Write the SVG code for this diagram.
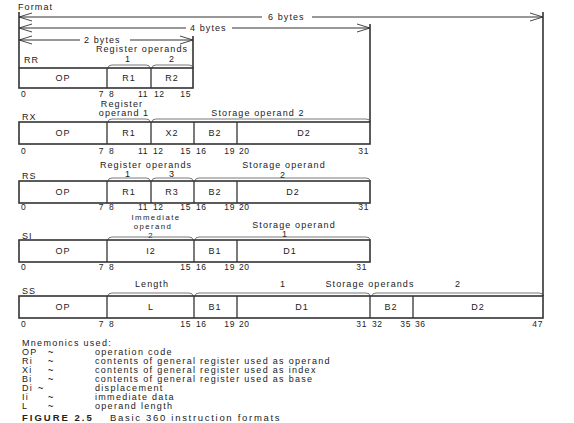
<svg xmlns="http://www.w3.org/2000/svg" width="574" height="423" viewBox="0 0 574 423">
<style>
text{font-family:"Liberation Sans",Arial,sans-serif;fill:#222;letter-spacing:1.1px}
.t{font-size:9px}
.s{font-size:7.8px;letter-spacing:1.4px}
.n{font-size:8.5px;letter-spacing:0.6px}
.e{text-anchor:end}
.m{text-anchor:middle}
.box{fill:none;stroke:#333;stroke-width:1.6}
.div{stroke:#333;stroke-width:1.3}
.ln{fill:none;stroke:#333;stroke-width:1}
.vl{fill:none;stroke:#333;stroke-width:1.6}
.br{fill:none;stroke:#555;stroke-width:0.8}
.ah{fill:none;stroke:#333;stroke-width:0.9}
.tl{font-size:9px;letter-spacing:0;font-weight:bold}
.fig{font-weight:bold;font-size:9.5px;letter-spacing:2px}
.cap{font-size:9.5px;letter-spacing:1.7px}
.lg{font-size:9px;letter-spacing:1.3px}
</style>
<rect width="574" height="423" fill="#fff"/>
<text class="t" x="18" y="10">Format</text>

<g id="connectors">
  <line class="vl" x1="19" y1="12" x2="19" y2="68"/>
  <line class="vl" x1="193" y1="36" x2="193" y2="68"/>
  <line class="vl" x1="370" y1="24" x2="370" y2="122"/>
  <line class="vl" x1="543" y1="12" x2="543" y2="296"/>
  <line class="ln" x1="19" y1="17" x2="262" y2="17"/>
  <line class="ln" x1="312" y1="17" x2="543" y2="17"/>
  <path class="ah" d="M32,13 L19,17 L32,21 M530,13 L543,17 L530,21"/>
  <line class="ln" x1="19" y1="28" x2="186" y2="28"/>
  <line class="ln" x1="232" y1="28" x2="370" y2="28"/>
  <path class="ah" d="M32,24 L19,28 L32,32 M357,24 L370,28 L357,32"/>
  <line class="ln" x1="19" y1="40" x2="80" y2="40"/>
  <line class="ln" x1="130" y1="40" x2="193" y2="40"/>
  <path class="ah" d="M32,36 L19,40 L32,44 M180,36 L193,40 L180,44"/>
</g>
<text class="t" x="268" y="20">6 bytes</text>
<text class="t" x="190" y="31">4 bytes</text>
<text class="t" x="84" y="43">2 bytes</text>

<g id="RR">
  <text class="t" x="24" y="63">RR</text>
  <text class="t m" x="142" y="52">Register operands</text>
  <text class="t m" x="128" y="62">1</text>
  <text class="t m" x="172" y="62">2</text>
  <path class="br" d="M108,68 q0,-3 4,-3 H146 q4,0 4,3 M152,68 q0,-3 4,-3 H189 q4,0 4,3"/>
  <rect class="box" x="19" y="68" width="174" height="20"/>
  <line class="div" x1="107" y1="68" x2="107" y2="88"/>
  <line class="div" x1="151" y1="68" x2="151" y2="88"/>
  <text class="t m" x="63" y="81">OP</text>
  <text class="t m" x="129" y="81">R1</text>
  <text class="t m" x="172" y="81">R2</text>
  <text class="n" x="21" y="97">0</text>
  <text class="n e" x="104" y="97">7</text>
  <text class="n" x="109" y="97">8</text>
  <text class="n e" x="148" y="97">11</text>
  <text class="n" x="154" y="97">12</text>
  <text class="n e" x="191" y="97">15</text>
</g>

<g id="RX">
  <text class="t" x="22" y="120">RX</text>
  <text class="t m" x="122" y="107">Register</text>
  <text class="t m" x="124" y="116">operand 1</text>
  <text class="t m" x="258" y="116">Storage operand 2</text>
  <path class="br" d="M108,122 q0,-3 4,-3 H146 q4,0 4,3 M152,122 q0,-3 4,-3 H366 q4,0 4,3"/>
  <rect class="box" x="19" y="122" width="351" height="22"/>
  <line class="div" x1="107" y1="122" x2="107" y2="144"/>
  <line class="div" x1="151" y1="122" x2="151" y2="144"/>
  <line class="div" x1="194" y1="122" x2="194" y2="144"/>
  <line class="div" x1="237" y1="122" x2="237" y2="144"/>
  <text class="t m" x="63" y="136">OP</text>
  <text class="t m" x="129" y="136">R1</text>
  <text class="t m" x="172" y="136">X2</text>
  <text class="t m" x="215" y="136">B2</text>
  <text class="t m" x="304" y="136">D2</text>
  <text class="n" x="21" y="154">0</text>
  <text class="n e" x="104" y="154">7</text>
  <text class="n" x="109" y="154">8</text>
  <text class="n e" x="148" y="154">11</text>
  <text class="n" x="153" y="154">12</text>
  <text class="n e" x="191" y="154">15</text>
  <text class="n" x="196" y="154">16</text>
  <text class="n e" x="235" y="154">19</text>
  <text class="n" x="239" y="154">20</text>
  <text class="n e" x="369" y="154">31</text>
</g>

<g id="RS">
  <text class="t" x="22" y="179">RS</text>
  <text class="t m" x="146" y="168">Register operands</text>
  <text class="t m" x="128" y="177">1</text>
  <text class="t m" x="172" y="177">3</text>
  <text class="t m" x="284" y="168">Storage operand</text>
  <text class="t m" x="283" y="178">2</text>
  <path class="br" d="M108,181 q0,-3 4,-3 H146 q4,0 4,3 M152,181 q0,-3 4,-3 H189 q4,0 4,3 M195,181 q0,-3 4,-3 H366 q4,0 4,3"/>
  <rect class="box" x="19" y="181" width="351" height="22"/>
  <line class="div" x1="107" y1="181" x2="107" y2="203"/>
  <line class="div" x1="151" y1="181" x2="151" y2="203"/>
  <line class="div" x1="194" y1="181" x2="194" y2="203"/>
  <line class="div" x1="237" y1="181" x2="237" y2="203"/>
  <text class="t m" x="63" y="195">OP</text>
  <text class="t m" x="129" y="195">R1</text>
  <text class="t m" x="172" y="195">R3</text>
  <text class="t m" x="215" y="195">B2</text>
  <text class="t m" x="293" y="195">D2</text>
  <text class="n" x="21" y="210">0</text>
  <text class="n e" x="104" y="210">7</text>
  <text class="n" x="109" y="210">8</text>
  <text class="n e" x="148" y="210">11</text>
  <text class="n" x="153" y="210">12</text>
  <text class="n e" x="191" y="210">15</text>
  <text class="n" x="196" y="210">16</text>
  <text class="n e" x="235" y="210">19</text>
  <text class="n" x="239" y="210">20</text>
  <text class="n e" x="369" y="210">31</text>
</g>

<g id="SI">
  <text class="t" x="22" y="239">SI</text>
  <text class="s m" x="156" y="219.5">Immediate</text>
  <text class="s m" x="153" y="228.5">operand</text>
  <text class="s m" x="151" y="237.5">2</text>
  <text class="t m" x="294" y="228">Storage operand</text>
  <text class="t m" x="285" y="237">1</text>
  <path class="br" d="M108,240 q0,-3 4,-3 H189 q4,0 4,3 M195,240 q0,-3 4,-3 H366 q4,0 4,3"/>
  <rect class="box" x="19" y="240" width="351" height="22"/>
  <line class="div" x1="107" y1="240" x2="107" y2="262"/>
  <line class="div" x1="194" y1="240" x2="194" y2="262"/>
  <line class="div" x1="237" y1="240" x2="237" y2="262"/>
  <text class="t m" x="63" y="254">OP</text>
  <text class="t m" x="151" y="254">I2</text>
  <text class="t m" x="215" y="254">B1</text>
  <text class="t m" x="290" y="254">D1</text>
  <text class="n" x="21" y="270">0</text>
  <text class="n e" x="104" y="270">7</text>
  <text class="n" x="109" y="270">8</text>
  <text class="n e" x="191" y="270">15</text>
  <text class="n" x="196" y="270">16</text>
  <text class="n e" x="235" y="270">19</text>
  <text class="n" x="239" y="270">20</text>
  <text class="n e" x="367" y="270">31</text>
</g>

<g id="SS">
  <text class="t" x="22" y="294">SS</text>
  <text class="t m" x="152" y="287">Length</text>
  <text class="t m" x="283" y="287">1</text>
  <text class="t m" x="370" y="287">Storage operands</text>
  <text class="t m" x="458" y="287">2</text>
  <path class="br" d="M108,296 q0,-3 4,-3 H189 q4,0 4,3 M195,296 q0,-3 4,-3 H366 q4,0 4,3 M372,296 q0,-3 4,-3 H539 q4,0 4,3"/>
  <rect class="box" x="19" y="296" width="524" height="22"/>
  <line class="div" x1="107" y1="296" x2="107" y2="318"/>
  <line class="div" x1="194" y1="296" x2="194" y2="318"/>
  <line class="div" x1="237" y1="296" x2="237" y2="318"/>
  <line class="div" x1="370" y1="296" x2="370" y2="318"/>
  <line class="div" x1="413" y1="296" x2="413" y2="318"/>
  <text class="t m" x="63" y="310">OP</text>
  <text class="t m" x="151" y="310">L</text>
  <text class="t m" x="215" y="310">B1</text>
  <text class="t m" x="302" y="310">D1</text>
  <text class="t m" x="391" y="310">B2</text>
  <text class="t m" x="478" y="310">D2</text>
  <text class="n" x="21" y="327">0</text>
  <text class="n e" x="104" y="327">7</text>
  <text class="n" x="109" y="327">8</text>
  <text class="n e" x="191" y="327">15</text>
  <text class="n" x="196" y="327">16</text>
  <text class="n e" x="235" y="327">19</text>
  <text class="n" x="239" y="327">20</text>
  <text class="n e" x="367" y="327">31</text>
  <text class="n" x="372" y="327">32</text>
  <text class="n e" x="411" y="327">35</text>
  <text class="n" x="415" y="327">36</text>
  <text class="n e" x="543" y="327">47</text>
</g>

<g id="legend">
  <text class="lg" x="22" y="346">Mnemonics used:</text>
  <text class="lg" x="22" y="355">OP</text><text class="tl" x="48" y="355">~</text><text class="lg" x="95" y="355">operation code</text>
  <text class="lg" x="22" y="364">Ri</text><text class="tl" x="48" y="364">~</text><text class="lg" x="95" y="364">contents of general register used as operand</text>
  <text class="lg" x="22" y="373">Xi</text><text class="tl" x="48" y="373">~</text><text class="lg" x="95" y="373">contents of general register used as index</text>
  <text class="lg" x="22" y="382">Bi</text><text class="tl" x="48" y="382">~</text><text class="lg" x="95" y="382">contents of general register used as base</text>
  <text class="lg" x="22" y="391">Di</text><text class="tl" x="38" y="391">~</text><text class="lg" x="95" y="391">displacement</text>
  <text class="lg" x="22" y="400">Ii</text><text class="tl" x="48" y="400">~</text><text class="lg" x="95" y="400">immediate data</text>
  <text class="lg" x="22" y="409">L</text><text class="tl" x="48" y="409">~</text><text class="lg" x="95" y="409">operand length</text>
  <text class="fig" x="22" y="421">FIGURE 2.5</text>
  <text class="cap" x="110" y="421">Basic 360 instruction formats</text>
</g>
</svg>
